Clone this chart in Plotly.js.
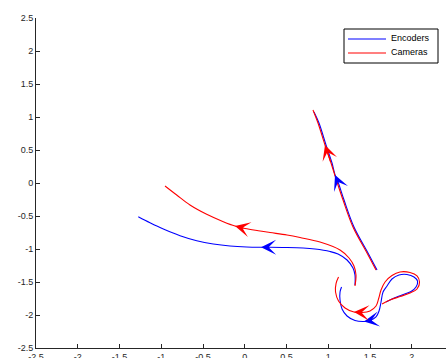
<!DOCTYPE html>
<html><head><meta charset="utf-8">
<script src="https://cdn.plot.ly/plotly-3.0.1.min.js"></script>
<style>html,body{margin:0;padding:0;background:#fff}#chart{width:446px;height:358px}</style>
</head><body><div id="chart"></div>
<script>
// Series names
const seriesNames = ["Encoders", "Cameras"];
const seriesColors = ["#0000ff", "#ff0000"];

// Encoders paths (in order of motion)
const encA_x = [1.320,1.320,1.296,1.225,1.117,1.021,0.841,0.698,0.482,0.302,0.195,0.022,-0.177,-0.377,-0.575,-0.775,-0.975,-1.135,-1.275];
const encA_y = [-1.545,-1.394,-1.288,-1.167,-1.076,-1.038,-1.000,-0.985,-0.977,-0.974,-0.974,-0.970,-0.955,-0.924,-0.874,-0.798,-0.697,-0.602,-0.511];
const encB_x = [1.584,1.476,1.308,1.189,1.117,1.081,1.045,0.973,0.889,0.829];
const encB_y = [-1.318,-1.061,-0.667,-0.258,0.015,0.121,0.303,0.576,0.909,1.076];
const encC_x = [1.692,1.763,1.883,1.991,2.051,2.069,2.027,1.943,1.847,1.763,1.704,1.656,1.632,1.608,1.572,1.500,1.428,1.320,1.225,1.165,1.141,1.141,1.159];
const encC_y = [-1.803,-1.758,-1.697,-1.644,-1.576,-1.485,-1.424,-1.386,-1.394,-1.455,-1.561,-1.652,-1.803,-1.939,-2.030,-2.083,-2.098,-2.083,-2.015,-1.909,-1.773,-1.652,-1.576];
const encArrowIdx = [10, 5, 16];

// Cameras paths (in order of motion)
const camA_x = [1.320,1.332,1.308,1.249,1.141,0.901,0.662,0.506,0.302,0.162,0.003,-0.117,-0.257,-0.456,-0.656,-0.815,-0.955];
const camA_y = [-1.561,-1.394,-1.258,-1.136,-1.015,-0.894,-0.826,-0.788,-0.750,-0.723,-0.689,-0.652,-0.586,-0.474,-0.333,-0.182,-0.045];
const camB_x = [1.572,1.464,1.296,1.177,1.105,1.033,0.961,0.877,0.817];
const camB_y = [-1.318,-1.061,-0.667,-0.258,0.015,0.303,0.576,0.909,1.106];
const camC_x = [1.644,1.740,1.859,1.979,2.063,2.093,2.063,1.979,1.859,1.763,1.680,1.632,1.602,1.572,1.500,1.404,1.308,1.201,1.123,1.087,1.093,1.123];
const camC_y = [-1.833,-1.773,-1.720,-1.667,-1.606,-1.500,-1.409,-1.356,-1.348,-1.402,-1.500,-1.621,-1.758,-1.864,-1.939,-1.962,-1.955,-1.894,-1.788,-1.652,-1.523,-1.424];
const camArrowIdx = [11, 6, 16];

// Tick labels
const xTickVals = [-2.5,-2,-1.5,-1,-0.5,0,0.5,1,1.5,2,2.5];
const xTickText = ["-2.5","-2","-1.5","-1","-0.5","0","0.5","1","1.5","2","2.5"];
const yTickVals = [-2.5,-2,-1.5,-1,-0.5,0,0.5,1,1.5,2,2.5];
const yTickText = ["-2.5","-2","-1.5","-1","-0.5","0","0.5","1","1.5","2","2.5"];

function joinSegs(segs) {
  const out = [];
  segs.forEach((s, i) => { if (i) out.push(null); out.push(...s); });
  return out;
}

const encSegs = [[encA_x, encA_y], [encB_x, encB_y], [encC_x, encC_y]];
const camSegs = [[camA_x, camA_y], [camB_x, camB_y], [camC_x, camC_y]];
const groups = [[encSegs, encArrowIdx], [camSegs, camArrowIdx]];

const traces = groups.map(([segs], k) => ({
  type: 'scatter', mode: 'lines', name: seriesNames[k],
  x: joinSegs(segs.map(s => s[0])), y: joinSegs(segs.map(s => s[1])),
  connectgaps: false, showlegend: false,
  line: {color: seriesColors[k], width: 1.1, shape: 'spline', smoothing: 1.0}
}));

const annotations = [];
groups.forEach(([segs, idx], k) => {
  segs.forEach((s, j) => {
    const i = idx[j];
    annotations.push({
      x: s[0][i], y: s[1][i], ax: s[0][i-1], ay: s[1][i-1],
      xref: 'x', yref: 'y', axref: 'x', ayref: 'y',
      text: '', showarrow: true, arrowhead: 3, arrowsize: 2.1, arrowwidth: 1.2,
      arrowcolor: seriesColors[k], standoff: 0, startstandoff: 0
    });
  });
});

// Legend box drawn in paper space (plot area: left 36px, width 410px, top 18px, height 330px)
const PL = 36, PW = 410, PT = 18, PH = 330;
const px = v => (v - PL) / PW;
const py = v => 1 - (v - PT) / PH;
const shapes = [{
  type: 'rect', xref: 'paper', yref: 'paper',
  x0: px(344), x1: px(438), y0: py(63), y1: py(29),
  line: {color: '#000', width: 1}, fillcolor: '#fff', layer: 'above'
}];
const legendRows = [39, 53];
seriesNames.forEach((name, k) => {
  shapes.push({
    type: 'line', xref: 'paper', yref: 'paper',
    x0: px(348), x1: px(386), y0: py(legendRows[k]), y1: py(legendRows[k]),
    line: {color: seriesColors[k], width: 1.1}, layer: 'above'
  });
  annotations.push({
    xref: 'paper', yref: 'paper', x: px(389), y: py(legendRows[k] - 1.5),
    xanchor: 'left', yanchor: 'middle', showarrow: false, text: name,
    font: {family: 'Arial, "Liberation Sans", sans-serif', size: 9, color: '#000'}
  });
});

const axisCommon = {
  showgrid: false, zeroline: false, showline: true, linecolor: '#262626', linewidth: 1,
  ticks: 'inside', ticklen: 4, tickwidth: 1, tickcolor: '#262626',
  tickfont: {family: 'Arial, "Liberation Sans", sans-serif', size: 9, color: '#262626'},
  mirror: false, fixedrange: true
};

const layout = {
  width: 446, height: 358,
  margin: {l: PL, r: 0, t: PT, b: 10, pad: 0},
  paper_bgcolor: '#fff', plot_bgcolor: '#fff',
  showlegend: false,
  xaxis: Object.assign({}, axisCommon, {range: [-2.5, 2.41], tickvals: xTickVals, ticktext: xTickText}),
  yaxis: Object.assign({}, axisCommon, {range: [-2.5, 2.5], tickvals: yTickVals, ticktext: yTickText}),
  shapes: shapes,
  annotations: annotations
};

Plotly.newPlot('chart', traces, layout, {staticPlot: true, displayModeBar: false});
</script>
</body></html>
